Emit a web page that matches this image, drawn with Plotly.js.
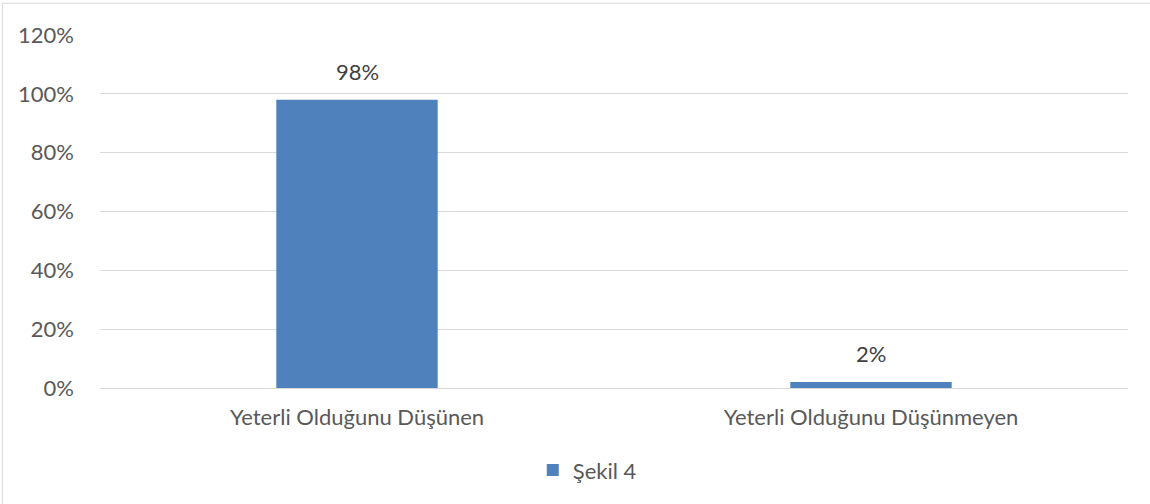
<!DOCTYPE html>
<html>
<head>
<meta charset="utf-8">
<script src="https://cdn.plot.ly/plotly-3.0.1.min.js"></script>
<style>html,body{margin:0;padding:0;background:#fff;}#chart{width:1150px;height:504px;}</style>
</head>
<body>
<div id="chart"></div>
<script>
const categories = ["Yeterli Olduğunu Düşünen", "Yeterli Olduğunu Düşünmeyen"];
const values = [0.98, 0.02];
const labels = ["98%", "2%"];
const seriesName = "Şekil 4";
const tickVals = [0, 0.2, 0.4, 0.6, 0.8, 1.0, 1.2];
const tickText = ["0%", "20%", "40%", "60%", "80%", "100%", "120%"];

const font = "Lato, sans-serif";
const trace = {
  type: "bar",
  x: categories,
  y: values,
  name: seriesName,
  marker: {color: "#4F81BD"},
  width: 0.314,
  showlegend: true,
  hoverinfo: "none"
};
const annotations = categories.map((c, i) => ({
  x: c, y: values[i], xref: "x", yref: "y",
  text: labels[i], showarrow: false,
  yanchor: "bottom", yshift: 13,
  font: {size: 22, color: "#404040", family: font}
}));
const layout = {
  width: 1150, height: 504,
  margin: {l: 100, r: 22, t: 35, b: 116, autoexpand: false},
  paper_bgcolor: "#fff", plot_bgcolor: "#fff",
  font: {family: font, color: "#595959", size: 22},
  xaxis: {
    showgrid: false, showline: true, linecolor: "#D9D9D9", linewidth: 1,
    ticks: "", tickfont: {size: 22, color: "#595959"},
    ticklabelstandoff: 10, automargin: false
  },
  yaxis: {
    range: [0, 1.2], tickvals: tickVals, ticktext: tickText,
    showgrid: true, gridcolor: "#D9D9D9", gridwidth: 1,
    zeroline: false, showline: false, ticks: "",
    tickfont: {size: 22, color: "#595959"},
    ticklabelstandoff: 25, automargin: false
  },
  showlegend: true,
  legend: {
    orientation: "h", x: 0.474, xanchor: "center",
    yref: "container", y: 0.067, yanchor: "middle",
    font: {size: 22, color: "#595959"}, itemwidth: 30
  },
  annotations: annotations,
  bargap: 0.686,
  shapes: [
    {type: "line", xref: "paper", yref: "paper", x0: -0.095, x1: 1.03, y0: 1.09, y1: 1.09, line: {color: "#D9D9D9", width: 1}},
    {type: "line", xref: "paper", yref: "paper", x0: -0.095, x1: -0.095, y0: 1.09, y1: -0.33, line: {color: "#D9D9D9", width: 1}}
  ]
};
Plotly.newPlot("chart", [trace], layout, {displayModeBar: false, staticPlot: true});
</script>
</body>
</html>
